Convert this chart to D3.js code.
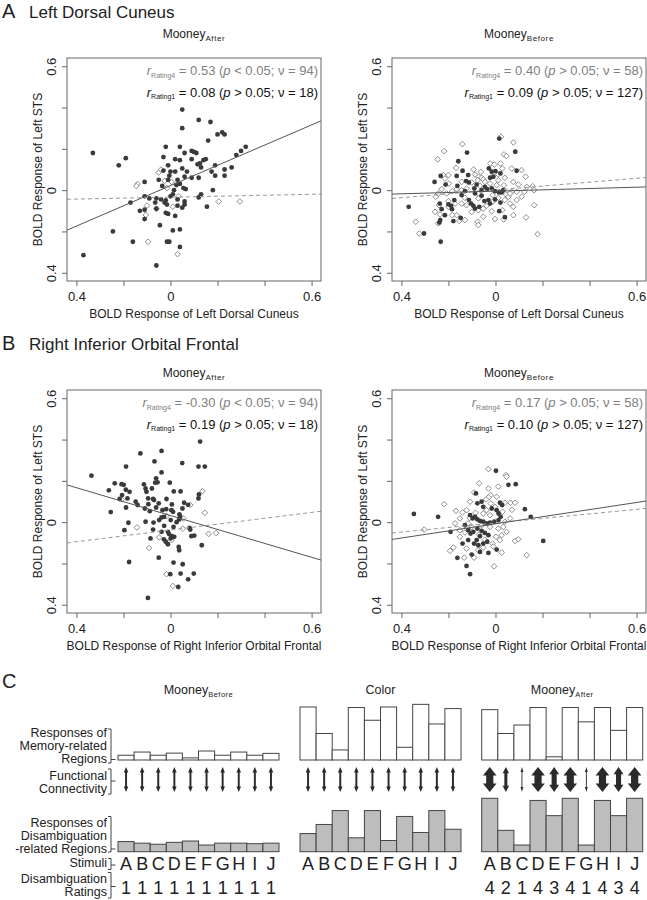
<!DOCTYPE html>
<html lang="en">
<head>
<meta charset="UTF-8">
<title>BOLD responses - Mooney</title>
<script src="https://cdn.jsdelivr.net/npm/d3@7"></script>
<style>
  body { margin: 0; background: #fff; }
  svg { font-family: "Liberation Sans", Arial, sans-serif; }
</style>
</head>
<body>
<div id="chart"></div>
<script>

// ---------- scatter data (x, y) ----------
var aAfterR4 = [[0.05,0.39],[0.12,0.34],[0.17,0.33],[0.05,0.30],[0.20,0.27],[0.22,0.28],[0.23,0.27],[0.16,0.24],[-0.33,0.18],[-0.02,0.21],[0.04,0.21],[0.06,0.18],[0.09,0.19],[0.10,0.185],[0.11,0.18],[0.32,0.21],[0.30,0.19],[0.28,0.17],[-0.19,0.155],[-0.22,0.12],[-0.03,0.16],[0.02,0.15],[0.04,0.145],[0.09,0.15],[0.14,0.145],[0.125,0.13],[0.115,0.125],[0.13,0.11],[0.15,0.15],[0.19,0.12],[0.175,0.09],[0.23,0.10],[0.26,0.11],[0.19,0.07],[0.23,0.07],[-0.01,0.12],[0.05,0.105],[0.07,0.09],[-0.03,0.095],[0,0.09],[0.02,0.09],[0.06,0.065],[0.12,0.06],[-0.11,0.04],[-0.05,0.05],[-0.01,0.05],[0.03,0.05],[0.04,0.03],[0.055,0.01],[0.065,0.005],[0.015,0],[0.01,-0.02],[0,-0.03],[-0.11,-0.03],[-0.09,-0.04],[-0.17,-0.06],[-0.06,-0.04],[-0.04,-0.045],[-0.025,-0.06],[-0.02,-0.05],[-0.015,-0.07],[0.03,-0.045],[0.06,-0.055],[0.12,-0.035],[0.13,-0.02],[0.18,0],[0.03,-0.075],[0.05,-0.085],[0.06,-0.07],[-0.065,-0.06],[-0.06,-0.09],[-0.13,-0.10],[-0.11,-0.095],[-0.02,-0.11],[-0.01,-0.115],[0.02,-0.125],[-0.11,-0.14],[0.155,-0.08],[-0.045,-0.17],[0.01,-0.195],[0.04,-0.19],[-0.245,-0.20],[-0.16,-0.25],[-0.015,-0.25],[-0.005,-0.25],[0.04,-0.275],[-0.37,-0.315],[-0.06,-0.365],[-0.005,0.07],[0.025,0.025],[-0.035,0.02],[0.09,0.06]];
var aAfterR1 = [[-0.05,0.085],[-0.04,0.10],[-0.025,0.045],[-0.14,0.03],[-0.145,0.02],[0.005,0.04],[0.035,-0.03],[-0.10,-0.075],[-0.06,-0.09],[-0.105,-0.12],[0.205,-0.055],[0.295,-0.055],[-0.095,-0.25],[0.03,-0.31],[-0.015,0.01],[0.01,-0.08]];

var aBeforeR4 = [[0.016,0.25],[0.084,0.186],[-0.121,0.182],[-0.158,0.14],[-0.14,0.094],[-0.165,0.069],[-0.233,0.069],[-0.259,0.04],[-0.212,0.027],[-0.162,0.021],[-0.116,0.073],[-0.125,0.044],[-0.113,0.037],[-0.028,0.105],[-0.016,0.089],[0,0.092],[0.021,0.081],[-0.009,0.065],[-0.023,0.06],[0.09,0.094],[-0.08,0.027],[-0.09,0.008],[-0.059,0],[-0.045,0.016],[-0.036,0.005],[-0.016,0.008],[-0.002,-0.005],[0.015,-0.011],[0.026,-0.011],[0.033,0],[-0.087,-0.016],[-0.059,-0.027],[-0.113,-0.048],[-0.104,-0.065],[-0.094,-0.076],[-0.087,-0.089],[-0.069,-0.081],[-0.047,-0.053],[-0.03,-0.048],[-0.023,-0.065],[-0.002,-0.045],[0.021,-0.06],[-0.237,-0.065],[-0.229,-0.092],[-0.2,-0.069],[-0.189,-0.076],[-0.185,-0.092],[-0.175,-0.048],[-0.215,-0.121],[-0.235,-0.145],[-0.239,-0.157],[-0.179,-0.15],[-0.148,-0.134],[-0.369,-0.081],[-0.304,-0.21],[-0.233,-0.25],[0.016,-0.102],[0.04,-0.131],[-0.13,-0.005],[-0.144,-0.024]];
var aBeforeR1 = [[-0.218,0.189],[-0.246,0.149],[-0.141,0.223],[0.076,0.231],[0.036,0.173],[0.047,0.165],[-0.168,0.108],[-0.222,0.073],[-0.2,0.073],[-0.093,0.1],[-0.073,0.065],[-0.059,0.06],[-0.052,0.052],[-0.076,0.048],[-0.101,0.037],[-0.022,0.129],[-0.005,0.124],[0.021,0.129],[0.029,0.105],[0.012,0.076],[0.04,0.06],[0.069,0.105],[0.111,0.097],[0.128,0.065],[0.076,0.04],[0.097,0.027],[0.133,0.016],[0.158,0.019],[0.164,0],[0.123,-0.008],[0.09,-0.008],[0.069,-0.008],[0.045,-0.021],[0.055,-0.032],[0.036,0.024],[0.005,0.024],[-0.023,0.032],[-0.045,0.04],[-0.066,0.021],[-0.123,0.008],[-0.144,0],[-0.165,0.005],[-0.184,-0.005],[-0.208,-0.016],[-0.229,0.005],[-0.243,-0.016],[-0.254,-0.032],[-0.2,-0.053],[-0.172,-0.065],[-0.144,-0.065],[-0.13,-0.037],[-0.073,-0.04],[-0.052,-0.089],[-0.073,-0.097],[0.04,-0.048],[0.062,-0.065],[0.076,-0.081],[0.09,-0.048],[0.111,-0.032],[0.062,-0.016],[0.029,-0.097],[-0.002,-0.14],[0.035,-0.142],[0.076,-0.121],[-0.052,-0.129],[-0.076,-0.153],[-0.073,-0.169],[-0.13,-0.145],[-0.154,-0.149],[-0.165,-0.121],[-0.184,-0.121],[-0.24,-0.073],[-0.257,-0.105],[-0.236,-0.118],[-0.243,-0.161],[-0.339,-0.153],[-0.324,-0.21],[0.13,-0.132],[0.165,-0.073],[0.179,-0.213],[-0.2,-0.081],[-0.123,-0.073],[-0.101,-0.105],[-0.016,-0.102],[-0.038,-0.076],[-0.012,-0.024],[0.012,0.048],[-0.062,0.089],[-0.087,0.076],[-0.012,-0.056],[0.012,-0.037],[-0.073,-0.016],[-0.144,0.04],[-0.215,0.056],[-0.198,0.032],[0.023,0.258]];

var bAfterR4 = [[0.126,0.39],[-0.038,0.345],[-0.128,0.333],[-0.068,0.294],[0.05,0.286],[-0.189,0.269],[0.119,0.269],[0.146,0.269],[-0.336,0.225],[-0.038,0.241],[-0.061,0.212],[-0.055,0.193],[-0.065,0.191],[-0.237,0.188],[-0.208,0.184],[-0.199,0.181],[-0.113,0.183],[-0.106,0.163],[-0.102,0.147],[-0.003,0.191],[-0.262,0.154],[-0.19,0.157],[-0.174,0.147],[-0.079,0.163],[0.014,0.149],[0.043,0.149],[-0.206,0.131],[-0.183,0.115],[-0.216,0.112],[-0.095,0.115],[-0.074,0.112],[-0.07,0.107],[-0.017,0.112],[0.121,0.134],[0.119,0.115],[-0.148,0.099],[-0.14,0.083],[-0.094,0.087],[-0.05,0.091],[0.006,0.086],[0.058,0.094],[0.075,0.084],[-0.189,0.071],[-0.109,0.066],[-0.088,0.053],[-0.061,0.071],[-0.034,0.058],[-0.018,0.063],[0.004,0.058],[0.011,0.05],[0.051,0.066],[-0.254,0.049],[0.038,0.037],[-0.048,0.01],[-0.038,0.023],[-0.027,0.026],[0.041,0.026],[0.037,0.013],[-0.179,-0.003],[-0.106,0.002],[-0.072,-0.002],[0.001,0.01],[0.026,0],[-0.027,-0.018],[0.013,-0.023],[-0.196,-0.039],[-0.074,-0.036],[-0.038,-0.047],[-0.011,-0.047],[-0.006,-0.058],[0.006,-0.068],[0.016,-0.071],[0.001,-0.079],[0.081,-0.028],[0.084,-0.036],[0.089,-0.068],[0.101,-0.065],[-0.028,-0.083],[-0.02,-0.095],[-0.011,-0.107],[-0.085,-0.079],[0.035,-0.12],[0.037,-0.136],[0.133,-0.112],[-0.05,-0.172],[-0.176,-0.193],[0.013,-0.196],[0.052,-0.204],[-0.001,-0.252],[0.043,-0.249],[0.099,-0.249],[0.075,-0.277],[0.033,-0.314],[-0.096,-0.367]];
var bAfterR1 = [[0.136,0.15],[0.146,0.045],[-0.207,0.11],[-0.143,-0.026],[0.052,-0.032],[0.054,0.018],[-0.016,0.029],[-0.048,-0.074],[0.162,-0.057],[0.194,-0.053],[-0.091,-0.125],[-0.017,-0.252],[0.01,-0.309],[0.084,0.083],[0.004,-0.087]];

var bBeforeR4 = [[0.002,0.249],[0.055,0.181],[0.086,0.184],[-0.083,0.139],[-0.347,0.04],[-0.244,0.026],[0.125,0.063],[0.15,0.026],[0.203,-0.091],[-0.077,0.091],[-0.059,0.099],[-0.052,0.074],[0.019,0.094],[0.028,0.083],[-0.016,0.066],[0.005,0.058],[0.013,0.042],[0.022,0.026],[-0.108,0.034],[-0.097,0.018],[-0.087,0.026],[-0.077,0.013],[-0.066,0.006],[-0.052,0.002],[-0.038,-0.006],[-0.023,-0.003],[-0.005,0.002],[0.013,0.01],[-0.13,-0.015],[-0.191,-0.047],[-0.116,-0.039],[-0.106,-0.055],[-0.094,-0.047],[-0.077,-0.031],[-0.059,-0.042],[-0.045,-0.052],[-0.03,-0.063],[-0.066,-0.068],[-0.08,-0.087],[-0.091,-0.104],[-0.073,-0.112],[-0.052,-0.104],[-0.035,-0.095],[-0.14,-0.104],[-0.116,-0.087],[-0.162,-0.173],[-0.123,-0.212],[-0.101,-0.157],[-0.066,-0.144],[-0.03,-0.149],[0.005,-0.133],[-0.108,-0.252]];
var bBeforeR1 = [[-0.03,0.257],[0.045,0.228],[0.047,0.22],[-0.069,0.188],[0.012,0.172],[-0.03,0.163],[-0.091,0.144],[-0.021,0.131],[-0.03,0.12],[-0.218,0.087],[-0.108,0.099],[-0.14,0.047],[-0.168,0.055],[-0.151,0.018],[-0.172,-0.006],[-0.303,-0.036],[-0.151,-0.039],[0.04,0.094],[0.064,0.094],[0.083,0.094],[0.062,0.018],[0.04,0.002],[0.033,-0.023],[0.047,-0.047],[0.026,-0.063],[0.019,-0.087],[0.002,-0.071],[-0.012,-0.104],[-0.123,-0.128],[-0.151,-0.071],[-0.179,-0.123],[-0.193,-0.139],[-0.133,-0.172],[-0.091,-0.172],[-0.073,-0.136],[-0.052,-0.123],[-0.009,-0.118],[0.026,-0.147],[0.083,-0.091],[0.097,-0.083],[0.133,-0.16],[-0.006,-0.214],[-0.123,0.058],[-0.116,-0.006],[-0.101,-0.023],[-0.052,0.042],[-0.038,0.058],[-0.023,0.034],[-0.002,0.074],[0.005,0.123],[-0.04,0.11],[0.012,-0.031],[-0.023,-0.023],[-0.059,-0.015],[-0.085,0.045],[-0.07,-0.06],[-0.02,0.09],[0.03,0.05],[-0.11,0.02],[-0.045,-0.085],[0.07,0.06],[-0.13,-0.05]];

// regression lines: [intercept, slope]
var aAfterFit = {solid: [0.022, 0.49], dashed: [-0.034, 0.023]};
var aBeforeFit = {solid: [-0.005, 0.032], dashed: [0.001, 0.094]};
var bAfterFit = {solid: [0.032, -0.337], dashed: [-0.038, 0.142]};
var bBeforeFit = {solid: [-0.008, 0.172], dashed: [-0.004, 0.11]};

// stats: [r, sign, nu]
var aAfterStats = [["0.53", "<", "94"], ["0.08", ">", "18"]];
var aBeforeStats = [["0.40", ">", "58"], ["0.09", ">", "127"]];
var bAfterStats = [["-0.30", "<", "94"], ["0.19", ">", "18"]];
var bBeforeStats = [["0.17", ">", "58"], ["0.10", ">", "127"]];

var axisTicks = [-0.4, -0.2, 0, 0.2, 0.4, 0.6];
var axisTickLabels = ["0.4", "", "0", "", "", "0.6"];

// ---------- panel C data ----------
var stimuli = ["A","B","C","D","E","F","G","H","I","J"];
var memBefore = [0.09,0.15,0.09,0.13,0.04,0.17,0.09,0.15,0.09,0.125];
var memColor = [1.0,0.5,0.19,0.99,0.75,1.0,0.24,1.05,0.68,0.97];
var memAfter = [0.95,0.5,0.66,0.99,0.06,0.99,0.72,0.99,0.56,0.99];
var disBefore = [0.19,0.16,0.14,0.175,0.2,0.125,0.16,0.16,0.15,0.16];
var disColor = [0.34,0.51,0.77,0.26,0.77,0.21,0.66,0.36,0.77,0.42];
var disAfter = [1.0,0.4,0.125,0.96,0.675,1.0,0.125,0.96,0.675,1.0];
var connBefore = [1.5,1.5,1.5,1.5,1.5,1.5,1.5,1.5,1.5,1.5];
var connColor = [1.5,1.5,1.5,1.5,1.5,1.5,1.5,1.5,1.5,1.5];
var ratingsBefore = [1,1,1,1,1,1,1,1,1,1];
var ratingsAfter = [4,2,1,4,3,4,1,4,3,4];

var svg = d3.select("#chart").append("svg")
    .attr("width", 647)
    .attr("height", 900);

var domain = [-0.44, 0.64];
var boxW = 254, boxH = 223;
var textCol = "#222";

function sectionTitle(letter, label, y) {
  svg.append("text").attr("x", 2).attr("y", y)
     .attr("font-size", 20).attr("fill", textCol).text(letter);
  if (label) {
    svg.append("text").attr("x", 29).attr("y", y)
       .attr("font-size", 17).attr("fill", textCol).text(label);
  }
}

function drawScatter(p) {
  var g = svg.append("g").attr("transform", "translate(" + p.left + "," + p.top + ")");
  var x = d3.scaleLinear().domain(domain).range([0, boxW]);
  var y = d3.scaleLinear().domain(domain).range([boxH, 0]);

  // subtitle
  var st = g.append("text").attr("x", boxW / 2).attr("y", p.subY)
      .attr("text-anchor", "middle").attr("font-size", 12).attr("fill", textCol);
  st.append("tspan").text("Mooney");
  st.append("tspan").attr("font-size", 8).attr("dy", 2.5).attr("letter-spacing", 0.6).text(p.sub);

  // diamonds (rating 1)
  var diamond = d3.symbol().type(d3.symbolSquare).size(16);
  g.selectAll("path.r1")
    .data(p.r1)
    .enter().append("path")
    .attr("class", "r1")
    .attr("d", diamond)
    .attr("transform", function(d) { return "translate(" + x(d[0]) + "," + y(d[1]) + ") rotate(45)"; })
    .attr("fill", "#fff")
    .attr("stroke", "#7a7a7a")
    .attr("stroke-width", 0.8);

  // filled circles (rating 4)
  g.selectAll("circle.r4")
    .data(p.r4)
    .enter().append("circle")
    .attr("class", "r4")
    .attr("cx", function(d) { return x(d[0]); })
    .attr("cy", function(d) { return y(d[1]); })
    .attr("r", 2.4)
    .attr("fill", "#3a3a3a");

  // fit lines
  var fits = [
    {k: p.fit.dashed, stroke: "#999", dash: "4,3"},
    {k: p.fit.solid, stroke: "#555", dash: null}
  ];
  g.selectAll("line.fit")
    .data(fits)
    .enter().append("line")
    .attr("class", "fit")
    .attr("x1", x(domain[0]))
    .attr("x2", x(domain[1]))
    .attr("y1", function(d) { return y(d.k[0] + d.k[1] * domain[0]); })
    .attr("y2", function(d) { return y(d.k[0] + d.k[1] * domain[1]); })
    .attr("stroke", function(d) { return d.stroke; })
    .attr("stroke-dasharray", function(d) { return d.dash; })
    .attr("stroke-width", 1);

  // box
  g.append("rect").attr("width", boxW).attr("height", boxH)
    .attr("fill", "none").attr("stroke", "#666").attr("stroke-width", 1);

  // x axis
  g.append("g")
    .attr("transform", "translate(0," + boxH + ")")
    .call(d3.axisBottom(x).tickValues(axisTicks).tickSize(5)
      .tickFormat(function(d, i) { return axisTickLabels[i]; }))
    .call(function(a) {
      a.select(".domain").remove();
      a.selectAll("line").attr("stroke", "#666");
      a.selectAll("text").attr("y", 20).attr("dy", null)
        .attr("font-size", 13).attr("fill", textCol).attr("font-family", null);
    });

  // y axis
  g.append("g")
    .call(d3.axisLeft(y).tickValues(axisTicks).tickSize(5)
      .tickFormat(function(d, i) { return axisTickLabels[i]; }))
    .call(function(a) {
      a.select(".domain").remove();
      a.selectAll("line").attr("stroke", "#666");
      a.selectAll("text").attr("x", null).attr("dy", null)
        .attr("transform", "translate(-11,0) rotate(-90)")
        .attr("text-anchor", "middle")
        .attr("font-size", 13).attr("fill", textCol).attr("font-family", null);
    });

  // axis titles
  g.append("text").attr("x", boxW / 2).attr("y", boxH + 37)
    .attr("text-anchor", "middle").attr("font-size", 12).attr("fill", textCol)
    .text(p.xLabel);
  g.append("text")
    .attr("transform", "translate(-25," + (boxH / 2) + ") rotate(-90)")
    .attr("text-anchor", "middle").attr("font-size", 12).attr("fill", textCol)
    .text("BOLD Response of Left STS");

  // stats
  var statRows = [
    {s: p.stats[0], sub: "Rating4", fill: "#808080", y: 17},
    {s: p.stats[1], sub: "Rating1", fill: "#111", y: 38.5}
  ];
  statRows.forEach(function(row) {
    var t = g.append("text").attr("x", boxW - 3).attr("y", row.y)
      .attr("text-anchor", "end").attr("font-size", 13).attr("fill", row.fill);
    t.append("tspan").attr("font-style", "italic").text("r");
    t.append("tspan").attr("font-size", 7).attr("dy", 2.5).text(row.sub);
    t.append("tspan").attr("dy", -2.5).text(" = " + row.s[0] + " (");
    t.append("tspan").attr("font-style", "italic").text("p");
    t.append("tspan").text(" " + row.s[1] + " 0.05; \u03bd = " + row.s[2] + ")");
  });
}

sectionTitle("A", "Left Dorsal Cuneus", 18);
sectionTitle("B", "Right Inferior Orbital Frontal", 350);
sectionTitle("C", null, 688);

var panels = [
  {left: 67, top: 58, subY: -20, sub: "After", r4: aAfterR4, r1: aAfterR1, fit: aAfterFit, stats: aAfterStats, xLabel: "BOLD Response of Left Dorsal Cuneus"},
  {left: 392, top: 58, subY: -20, sub: "Before", r4: aBeforeR4, r1: aBeforeR1, fit: aBeforeFit, stats: aBeforeStats, xLabel: "BOLD Response of Left Dorsal Cuneus"},
  {left: 67, top: 390, subY: -13, sub: "After", r4: bAfterR4, r1: bAfterR1, fit: bAfterFit, stats: bAfterStats, xLabel: "BOLD Response of Right Inferior Orbital Frontal"},
  {left: 392, top: 390, subY: -13, sub: "Before", r4: bBeforeR4, r1: bBeforeR1, fit: bBeforeFit, stats: bBeforeStats, xLabel: "BOLD Response of Right Inferior Orbital Frontal"}
];
panels.forEach(drawScatter);

// ---------- panel C ----------
var yMem = d3.scaleLinear().domain([0, 1]).range([760, 707]);
var yDis = d3.scaleLinear().domain([0, 1]).range([851.7, 798.3]);
var headW = d3.scaleLinear().domain([1, 4]).range([1.4, 6.8]);
var shaftW = d3.scaleLinear().domain([1, 4]).range([0.45, 3.6]);
var headL = d3.scaleLinear().domain([1, 4]).range([5, 8.5]);
var arrowTop = 767, arrowBot = 792;

var groups = [
  {title: "Mooney", sub: "Before", x0: 118, mem: memBefore, dis: disBefore, conn: connBefore, ratings: ratingsBefore},
  {title: "Color", sub: null, x0: 300, mem: memColor, dis: disColor, conn: connColor, ratings: null},
  {title: "Mooney", sub: "After", x0: 481.7, mem: memAfter, dis: disAfter, conn: ratingsAfter, ratings: ratingsAfter}
];

groups.forEach(function(gr) {
  var xb = d3.scaleBand().domain(stimuli).range([gr.x0, gr.x0 + 161]);
  var g = svg.append("g");

  var t = g.append("text").attr("x", gr.x0 + 80.5).attr("y", 694)
    .attr("text-anchor", "middle").attr("font-size", 12.5).attr("fill", textCol);
  t.append("tspan").text(gr.title);
  if (gr.sub) t.append("tspan").attr("font-size", 7.5).attr("dy", 2.5).attr("letter-spacing", 0.5).text(gr.sub);

  g.selectAll("rect.mem")
    .data(gr.mem)
    .enter().append("rect")
    .attr("class", "mem")
    .attr("x", function(d, i) { return xb(stimuli[i]); })
    .attr("y", function(d) { return yMem(d); })
    .attr("width", xb.bandwidth())
    .attr("height", function(d) { return yMem(0) - yMem(d); })
    .attr("fill", "#fff").attr("stroke", "#444").attr("stroke-width", 1);

  g.selectAll("rect.dis")
    .data(gr.dis)
    .enter().append("rect")
    .attr("class", "dis")
    .attr("x", function(d, i) { return xb(stimuli[i]); })
    .attr("y", function(d) { return yDis(d); })
    .attr("width", xb.bandwidth())
    .attr("height", function(d) { return yDis(0) - yDis(d); })
    .attr("fill", "#bdbdbd").attr("stroke", "#444").attr("stroke-width", 1);

  g.selectAll("path.arrow")
    .data(gr.conn)
    .enter().append("path")
    .attr("class", "arrow")
    .attr("d", function(d, i) {
      var cx = xb(stimuli[i]) + xb.bandwidth() / 2;
      var hw = headW(d), sw = shaftW(d), hl = headL(d);
      var pts = [
        [cx, arrowTop], [cx + hw, arrowTop + hl], [cx + sw, arrowTop + hl],
        [cx + sw, arrowBot - hl], [cx + hw, arrowBot - hl], [cx, arrowBot],
        [cx - hw, arrowBot - hl], [cx - sw, arrowBot - hl], [cx - sw, arrowTop + hl],
        [cx - hw, arrowTop + hl]
      ];
      return d3.line()(pts) + "Z";
    })
    .attr("fill", "#2a2a2a");

  g.selectAll("text.stim")
    .data(stimuli)
    .enter().append("text")
    .attr("class", "stim")
    .attr("x", function(d) { return xb(d) + xb.bandwidth() / 2; })
    .attr("y", 869.5)
    .attr("text-anchor", "middle").attr("font-size", 18).attr("fill", textCol)
    .text(function(d) { return d; });

  if (gr.ratings) {
    g.selectAll("text.rating")
      .data(gr.ratings)
      .enter().append("text")
      .attr("class", "rating")
      .attr("x", function(d, i) { return xb(stimuli[i]) + xb.bandwidth() / 2; })
      .attr("y", 894)
      .attr("text-anchor", "middle").attr("font-size", 18).attr("fill", textCol)
      .text(function(d) { return d; });
  }
});

// row labels with brackets
var rowLabels = [
  {lines: ["Responses of", "Memory-related", "Regions"], ys: [736.5, 749.5, 762.5], top: 729, bot: 763, tick: 759.5},
  {lines: ["Functional", "Connectivity"], ys: [779.5, 792.5], top: 769, bot: 794, tick: 781},
  {lines: ["Responses of", "Disambiguation", "-related Regions"], ys: [826.5, 839.5, 852.5], top: 816.5, bot: 852, tick: 849},
  {lines: ["Stimuli"], ys: [866.5], top: 858.5, bot: 869.5, tick: 865},
  {lines: ["Disambiguation", "Ratings"], ys: [883, 896], top: 872.5, bot: 898, tick: 886.5}
];
rowLabels.forEach(function(r) {
  r.lines.forEach(function(l, i) {
    svg.append("text").attr("x", 107).attr("y", r.ys[i])
      .attr("text-anchor", "end").attr("font-size", 12.5).attr("fill", textCol).text(l);
  });
  svg.append("path")
    .attr("d", "M108," + r.top + "H111V" + r.bot + "H108M111," + r.tick + "H115.5")
    .attr("fill", "none").attr("stroke", "#444").attr("stroke-width", 1);
});

</script>
</body>
</html>
